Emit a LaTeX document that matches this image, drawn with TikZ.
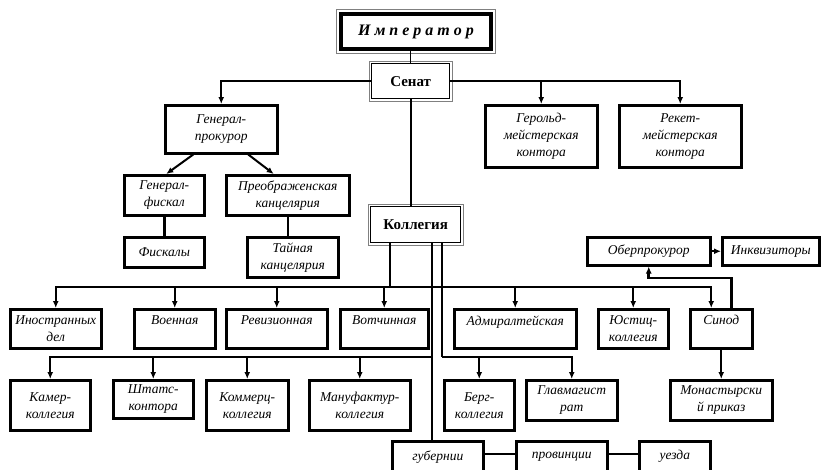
\documentclass[tikz,border=0pt]{standalone}
\usepackage{fontspec}
\setmainfont{Liberation Serif}
\usetikzlibrary{arrows.meta}

\begin{document}
\begin{tikzpicture}[x=1pt, y=-1pt,
  box/.style={draw, line width=2.5pt, anchor=north west, align=center, inner sep=1pt,
    font=\itshape\fontsize{13.5}{17}\selectfont},
  mainbox/.style={draw, line width=1.4pt, anchor=north west, align=center, inner sep=1pt,
    font=\bfseries\fontsize{15}{18}\selectfont},
  conn/.style={line width=2pt},
  arr/.style={conn, -{Latex[length=7pt,width=6pt]}}]
  \clip (0,0) rectangle (821,469);

  \node[mainbox, line width=4pt, minimum width=150, minimum height=35,
    font=\bfseries\itshape\fontsize{16}{18}\selectfont] (imp) at (339,12) {И м п е р а т о р};
  \node[mainbox, minimum width=78, minimum height=35] (senat) at (371,63) {Сенат};
  \node[mainbox, minimum width=90, minimum height=36] (kol) at (370,206) {Коллегия};
  \foreach \n/\d in {imp/2.5pt, senat/2pt, kol/2pt}
    \draw[gray, line width=1pt] ([shift={(-\d,\d)}]\n.north west) rectangle ([shift={(\d,-\d)}]\n.south east);

  \node[box, minimum width=112, minimum height=48] (genprok) at (164,104) {Генерал-\\прокурор};
  \node[box, minimum width=112, minimum height=62] (gerold) at (484,104) {Герольд-\\мейстерская\\контора};
  \node[box, minimum width=122, minimum height=62] (reket) at (618,104) {Рекет-\\мейстерская\\контора};
  \node[box, minimum width=80, minimum height=40] (genfisk) at (123,174) {Генерал-\\фискал};
  \node[box, minimum width=123, minimum height=40] (preobr) at (225,174) {Преображенская\\канцелярия};
  \node[box, minimum width=80, minimum height=30] (fisk) at (123,236) {Фискалы};
  \node[box, minimum width=91, minimum height=40] (tain) at (246,236) {Тайная\\канцелярия};
  \node[box, minimum width=123, minimum height=28] (ober) at (586,236) {Оберпрокурор};
  \node[box, minimum width=97, minimum height=28] (inkv) at (721,236) {Инквизиторы};

  \node[box, minimum width=91, minimum height=39] (inodel) at (9,308) {Иностранных\\дел};
  \node[box, minimum width=81, minimum height=39] (voen) at (133,308) {Военная\\~};
  \node[box, minimum width=101, minimum height=39] (reviz) at (225,308) {Ревизионная\\~};
  \node[box, minimum width=88, minimum height=39] (votch) at (339,308) {Вотчинная\\~};
  \node[box, minimum width=122, minimum height=39] (admir) at (453,308) {Адмиралтейская\\~};
  \node[box, minimum width=70, minimum height=39] (yust) at (597,308) {Юстиц-\\коллегия};
  \node[box, minimum width=62, minimum height=39] (sinod) at (689,308) {Синод\\~};

  \node[box, minimum width=80, minimum height=50] (kamer) at (9,379) {Камер-\\коллегия};
  \node[box, minimum width=80, minimum height=38] (shtats) at (112,379) {Штатс-\\контора};
  \node[box, minimum width=82, minimum height=50] (kommerc) at (205,379) {Коммерц-\\коллегия};
  \node[box, minimum width=101, minimum height=50] (manuf) at (308,379) {Мануфактур-\\коллегия};
  \node[box, minimum width=70, minimum height=50] (berg) at (443,379) {Берг-\\коллегия};
  \node[box, minimum width=91, minimum height=40] (glavmag) at (525,379) {Главмагист\\рат};
  \node[box, minimum width=102, minimum height=40] (monast) at (669,379) {Монастырски\\й приказ};

  \node[box, minimum width=91, minimum height=45] (gub) at (391,440) {губернии\\~};
  \node[box, minimum width=91, minimum height=45] (prov) at (515,440) {провинции\\~};
  \node[box, minimum width=71, minimum height=45] (uezd) at (638,440) {уезда\\~};

  \draw[conn, line width=1pt] (senat.north) -- (senat.north |- imp.south);
  \draw[arr] (senat.west) -| (genprok.north);
  \draw[arr] (senat.east) -| (gerold.north);
  \draw[arr] (senat.east) -| (reket.north);
  \draw[conn] (senat.south) -- (senat.south |- kol.north);
  \draw[arr] ([xshift=-28pt]genprok.south) -- ([xshift=2pt]genfisk.north);
  \draw[arr] ([xshift=27pt]genprok.south) -- ([xshift=-14pt]preobr.north);
  \draw[conn, line width=2.5pt] (genfisk) -- (fisk);
  \draw[conn, line width=2.5pt] (preobr.south) -- (preobr.south |- tain.north);

  \coordinate (k1) at (390,287);
  \coordinate (k2) at (432,357);
  \coordinate (k3) at (442,357);
  \draw[conn, line width=2.5pt] (kol.south -| k1) -- (k1);
  \draw[conn] (kol.south -| k2) -- (k2 |- gub.north);
  \draw[conn] (kol.south -| k3) -- (k3);
  \foreach \n in {inodel,voen,reviz,votch,admir,yust}
    \draw[arr] (k1) -| (\n.north);
  \draw[arr] (k1) -| ([xshift=-10pt]sinod.north);
  \foreach \n in {kamer,shtats,kommerc,manuf}
    \draw[arr] (k2) -| (\n.north);
  \foreach \n in {berg,glavmag}
    \draw[arr] (k3) -| (\n.north);
  \draw[arr] (sinod.south) -- (monast.north);
  \draw[arr, line width=2.8pt] ([xshift=10pt]sinod.north) -- ++(0,-30) -| (ober.south);
  \draw[arr] (ober) -- (inkv);
  \draw[conn] ([yshift=10pt]gub.east) -- ([yshift=10pt]prov.west);
  \draw[conn] ([yshift=10pt]prov.east) -- ([yshift=10pt]uezd.west);
\end{tikzpicture}
\end{document}
